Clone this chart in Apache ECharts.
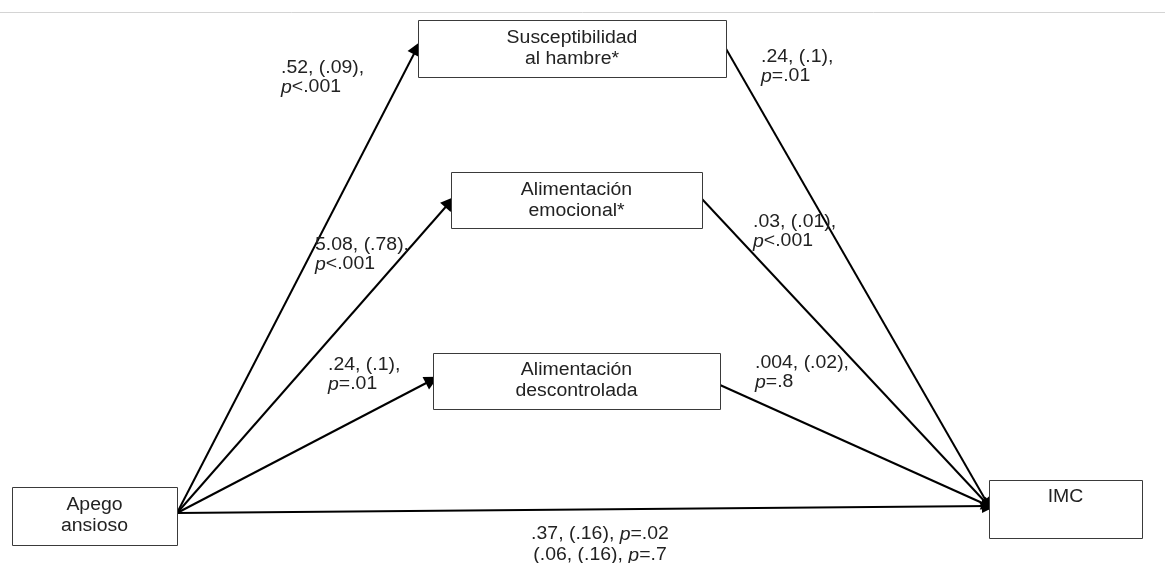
<!DOCTYPE html>
<html><head><meta charset="utf-8">
<script src="https://cdn.jsdelivr.net/npm/echarts@6/dist/echarts.min.js"></script>
<style>html,body{margin:0;padding:0;background:#fff}#c{width:1165px;height:563px}</style>
</head><body><div id="c"></div>
<script>
// ---- data ----
const nodeNames = ['Susceptibilidad\nal hambre*', 'Alimentación\nemocional*', 'Alimentación\ndescontrolada', 'Apego\nansioso', 'IMC'];
const pathFrom = [3, 3, 3, 3, 0, 1, 2];
const pathTo   = [0, 1, 2, 4, 4, 4, 4];
const pathLabels = [
  '.52, (.09),\n{i|p}<.001',
  '5.08, (.78),\n{i|p}<.001',
  '.24, (.1),\n{i|p}=.01',
  '.37, (.16), {i|p}=.02\n(.06, (.16), {i|p}=.7',
  '.24, (.1),\n{i|p}=.01',
  '.03, (.01),\n{i|p}<.001',
  '.004, (.02),\n{i|p}=.8'
];

// ---- layout (diagram coordinates, pixels) ----
const boxLayout = [[418,20,726,77],[451,172,702,228],[433,353,720,409],[12,487,177,545],[989,480,1142,538]];
const boxTextTop = [28, 180, 360, 495, 487];
const pathStart = [[177,513],[177,513],[177,513],[177,513],[725,47],[702,199],[720,385]];
const pathEnd   = [[417,48],[450,202],[432,380],[989,506],[989,506],[989,506],[989,506]];
const labelPos  = [[281,59,'left'],[315,236,'left'],[328,356,'left'],[600,524,'center'],[761,48,'left'],[753,213,'left'],[755,354,'left']];

const FONT = 'Arial, "Liberation Sans", sans-serif';
const SX = 1.08;
const chart = echarts.init(document.getElementById('c'));

const boxData = nodeNames.map((n, i) => ({ value: [boxLayout[i][0], boxLayout[i][1], boxLayout[i][2], boxLayout[i][3], boxTextTop[i]], name: n }));
const lineData = pathFrom.map((f, i) => ({ coords: [pathStart[i], pathEnd[i]], name: nodeNames[f] + '→' + nodeNames[pathTo[i]] }));
const labelData = pathLabels.map((t, i) => ({ value: [labelPos[i][0], labelPos[i][1]], text: t, align: labelPos[i][2] }));

chart.setOption({
  animation: false,
  backgroundColor: '#fff',
  grid: { left: 0, right: 0, top: 0, bottom: 0 },
  xAxis: { type: 'value', min: 0, max: 1165, show: false },
  yAxis: { type: 'value', min: 0, max: 563, inverse: true, show: false },
  graphic: [{ type: 'line', shape: { x1: 0, y1: 12.5, x2: 1165, y2: 12.5 }, style: { stroke: '#d4d4d4', lineWidth: 1 } }],
  series: [
    {
      type: 'lines', coordinateSystem: 'cartesian2d', z: 2,
      symbol: ['none', 'triangle'], symbolSize: [10, 14],
      lineStyle: { color: '#000', width: 2, opacity: 1 },
      data: lineData
    },
    {
      type: 'custom', coordinateSystem: 'cartesian2d', z: 3,
      data: boxData,
      renderItem: function (params, api) {
        const p0 = api.coord([api.value(0), api.value(1)]);
        const p1 = api.coord([api.value(2), api.value(3)]);
        const ty = api.coord([0, api.value(4)])[1];
        const name = boxData[params.dataIndex].name;
        return { type: 'group', children: [
          { type: 'rect', shape: { x: Math.round(p0[0]) + 0.5, y: Math.round(p0[1]) + 0.5, width: p1[0] - p0[0], height: p1[1] - p0[1] },
            style: { fill: '#fff', stroke: '#3a3a3a', lineWidth: 1 } },
          { type: 'text', x: (p0[0] + p1[0]) / 2, y: ty, scaleX: SX,
            style: { text: name, fill: '#222', font: '18px ' + FONT, align: 'center', verticalAlign: 'top', lineHeight: 21 } }
        ]};
      }
    },
    {
      type: 'custom', coordinateSystem: 'cartesian2d', z: 4,
      data: labelData,
      renderItem: function (params, api) {
        const p = api.coord([api.value(0), api.value(1)]);
        const d = labelData[params.dataIndex];
        return { type: 'text', x: p[0], y: p[1], scaleX: SX,
          style: { text: d.text, fill: '#222', fontSize: 18, fontFamily: FONT, align: d.align, verticalAlign: 'top', lineHeight: d.align === 'center' ? 21 : 19,
            rich: { i: { fontStyle: 'italic', fontSize: 18, fontFamily: FONT, fill: '#222', lineHeight: d.align === 'center' ? 21 : 19 } } } };
      }
    }
  ]
});
</script></body></html>
